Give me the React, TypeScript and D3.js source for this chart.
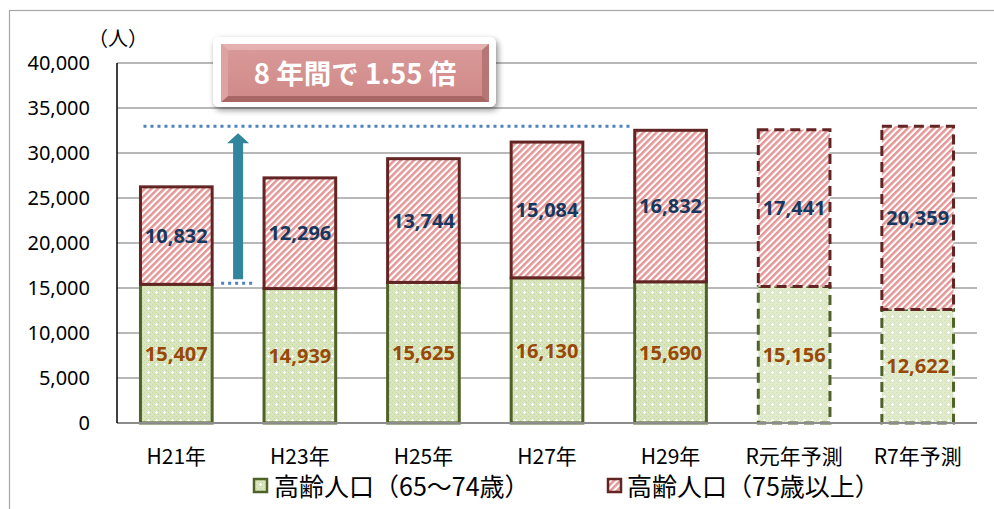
import React from "react";
import * as d3 from "d3";

const categories = ["H21年", "H23年", "H25年", "H27年", "H29年", "R元年予測", "R7年予測"];
const young = [15407, 14939, 15625, 16130, 15690, 15156, 12622];
const old = [10832, 12296, 13744, 15084, 16832, 17441, 20359];
const forecast = [false, false, false, false, false, true, true];
const yTicks = [0, 5000, 10000, 15000, 20000, 25000, 30000, 35000, 40000];
const legendLabels = ["高齢人口（65～74歳）", "高齢人口（75歳以上）"];
const titleText = "8 年間で 1.55 倍";
const unitText = "（人）";

const W = 994;
const H = 509;
const plotLeft = 117;
const plotRight = 977;
const plotTop = 63;
const plotBottom = 423;

export default function App() {
  const x = d3
    .scaleBand<string>()
    .domain(categories)
    .range([plotLeft, plotRight])
    .paddingInner(0.42)
    .paddingOuter(0.19);
  const y = d3.scaleLinear().domain([0, 40000]).range([plotBottom, plotTop]);
  const bw = x.bandwidth();
  const fmt = d3.format(",");

  const greenStroke = "#4F6228";
  const redStroke = "#632523";
  const navy = "#17375E";
  const brown = "#984807";
  const arrowColor = "#31859C";
  const dotBlue = "#4F81BD";

  const lastTotal = young[6] + old[6];
  const x0 = x(categories[0])!;
  const x1 = x(categories[1])!;
  const x4 = x(categories[4])!;
  const arrowX = (x0 + bw + x1) / 2;
  const arrowBottom = y(young[0]) - 5;
  const arrowTop = y(lastTotal) + 7;

  return (
    <svg
      width={W}
      height={H}
      style={{ position: "absolute", left: 0, top: 0, background: "#fff" }}
      fontFamily="'Noto Sans', 'Noto Sans CJK JP', sans-serif"
    >
      <defs>
        <pattern id="dots" width="8" height="8" patternUnits="userSpaceOnUse">
          <rect width="8" height="8" fill="#D8E5BF" />
          <rect x="0" y="0" width="1" height="1" fill="#C4D79E" />
          <rect x="2" y="2" width="1" height="1" fill="#C4D79E" />
          <rect x="4" y="0" width="1" height="1" fill="#C4D79E" />
          <rect x="6" y="2" width="1" height="1" fill="#C4D79E" />
          <rect x="0" y="4" width="1" height="1" fill="#C4D79E" />
          <rect x="2" y="6" width="1" height="1" fill="#C4D79E" />
          <rect x="6" y="6" width="1" height="1" fill="#C4D79E" />
          <rect x="3" y="4" width="3" height="1" fill="#fff" />
          <rect x="4" y="3" width="1" height="3" fill="#fff" />
        </pattern>
        <pattern id="dotsLight" width="8" height="8" patternUnits="userSpaceOnUse">
          <rect width="8" height="8" fill="url(#dots)" />
          <rect width="8" height="8" fill="#fff" opacity="0.2" />
        </pattern>
        <pattern
          id="hatch"
          width="4.6"
          height="4.6"
          patternUnits="userSpaceOnUse"
          patternTransform="rotate(-45)"
        >
          <rect width="4.6" height="4.6" fill="#fff" />
          <rect x="0" y="0" width="4.6" height="2.5" fill="#E39797" />
        </pattern>
        <filter id="shadow" x="-10%" y="-20%" width="125%" height="150%">
          <feGaussianBlur in="SourceAlpha" stdDeviation="3" />
          <feOffset dx="2" dy="3" result="b" />
          <feComponentTransfer>
            <feFuncA type="linear" slope="0.45" />
          </feComponentTransfer>
          <feMerge>
            <feMergeNode />
            <feMergeNode in="SourceGraphic" />
          </feMerge>
        </filter>
        <linearGradient id="titleGrad" x1="0" y1="0" x2="0" y2="1">
          <stop offset="0" stopColor="#D99A99" />
          <stop offset="1" stopColor="#CF8988" />
        </linearGradient>
      </defs>

      {/* outer frame */}
      <rect x={9.5} y={10.5} width={1000} height={600} fill="none" stroke="#A6A6A6" strokeWidth={1.2} />

      {/* gridlines */}
      {yTicks.slice(1).map((t) => (
        <line key={t} x1={plotLeft} x2={plotRight} y1={y(t)} y2={y(t)} stroke="#A0A0A0" strokeWidth={1.3} />
      ))}

      {/* y tick labels */}
      {yTicks.map((t) => (
        <text key={t} x={90} y={y(t)} dy="0.36em" textAnchor="end" fontSize={20} fill="#000">
          {fmt(t)}
        </text>
      ))}
      <text x={118} y={39} dy="0.36em" textAnchor="middle" fontSize={20} fontFamily="'Noto Sans CJK JP'" fill="#000">
        {unitText}
      </text>

      {/* bars */}
      {categories.map((c, i) => {
        const bx = x(c)!;
        const yg = y(young[i]);
        const yt = y(young[i] + old[i]);
        const dash = forecast[i] ? "10,6" : undefined;
        return (
          <g key={c}>
            <rect
              x={bx}
              y={yg}
              width={bw}
              height={plotBottom - yg}
              fill={forecast[i] ? "url(#dotsLight)" : "url(#dots)"}
              stroke={greenStroke}
              strokeWidth={3}
              strokeDasharray={dash}
            />
            <rect
              x={bx}
              y={yt}
              width={bw}
              height={yg - yt}
              fill="url(#hatch)"
              stroke={redStroke}
              strokeWidth={3}
              strokeDasharray={dash}
            />
          </g>
        );
      })}

      {/* x axis line */}
      <line x1={plotLeft} x2={plotRight} y1={plotBottom} y2={plotBottom} stroke="#8C8C8C" strokeWidth={2.2} />
      {/* y axis line */}
      <line x1={plotLeft} x2={plotLeft} y1={plotTop} y2={plotBottom} stroke="#000" strokeWidth={1.5} />

      {/* data labels */}
      {categories.map((c, i) => {
        const cx = x(c)! + bw / 2;
        const yg = y(young[i]);
        const yt = y(young[i] + old[i]);
        return (
          <g key={c} fontWeight="bold" fontSize={20} textAnchor="middle">
            <text x={cx} y={(yg + plotBottom) / 2} dy="0.36em" fill={brown}>
              {fmt(young[i])}
            </text>
            <text x={cx} y={(yg + yt) / 2} dy="0.36em" fill={navy}>
              {fmt(old[i])}
            </text>
          </g>
        );
      })}

      {/* x labels */}
      {categories.map((c) => (
        <text
          key={c}
          x={x(c)! + bw / 2}
          y={456}
          dy="0.36em"
          textAnchor="middle"
          fontSize={21}
          fontFamily="'Noto Sans CJK JP'"
          fill="#000"
        >
          {c}
        </text>
      ))}

      {/* dotted reference lines */}
      <line
        x1={x0 + 3}
        x2={x4 - 5}
        y1={y(lastTotal)}
        y2={y(lastTotal)}
        stroke={dotBlue}
        strokeWidth={3}
        strokeDasharray="3,4"
      />
      <line
        x1={x0 + bw + 9}
        x2={x1 - 8}
        y1={y(young[0]) - 1}
        y2={y(young[0]) - 1}
        stroke={dotBlue}
        strokeWidth={3}
        strokeDasharray="3,4"
      />

      {/* arrow */}
      <path
        d={`M${arrowX - 5},${arrowBottom} L${arrowX - 5},${arrowTop + 10} L${arrowX - 11},${arrowTop + 10} L${arrowX},${arrowTop} L${arrowX + 11},${arrowTop + 10} L${arrowX + 5},${arrowTop + 10} L${arrowX + 5},${arrowBottom} Z`}
        fill={arrowColor}
      />

      {/* title box */}
      <g>
        <rect x={213} y={37} width={283} height={70} rx={6} fill="#fff" filter="url(#shadow)" />
        <rect x={221} y={44} width={268} height={58} fill="url(#titleGrad)" />
        <path d="M221,44 L489,44 L482,50 L228,50 Z" fill="#E4B1B0" />
        <path d="M221,102 L489,102 L482,96 L228,96 Z" fill="#A86665" />
        <path d="M221,44 L228,50 L228,96 L221,102 Z" fill="#DDA3A2" />
        <path d="M489,44 L482,50 L482,96 L489,102 Z" fill="#B97574" />
        <text
          x={355}
          y={74}
          dy="0.36em"
          textAnchor="middle"
          fontSize={27.5}
          fontWeight="bold"
          fontFamily="'Noto Sans CJK JP'"
          fill="#fff"
        >
          {titleText}
        </text>
      </g>

      {/* legend */}
      <g>
        <rect x={254} y={479} width={13} height={13} fill="url(#dots)" stroke={greenStroke} strokeWidth={2.5} />
        <text x={274} y={487} dy="0.36em" fontSize={25} fontFamily="'Noto Sans CJK JP'" fill="#000">
          {legendLabels[0]}
        </text>
        <rect x={608} y={479} width={13} height={13} fill="url(#hatch)" stroke={redStroke} strokeWidth={2.5} />
        <text x={627} y={487} dy="0.36em" fontSize={25} fontFamily="'Noto Sans CJK JP'" fill="#000">
          {legendLabels[1]}
        </text>
      </g>
    </svg>
  );
}
